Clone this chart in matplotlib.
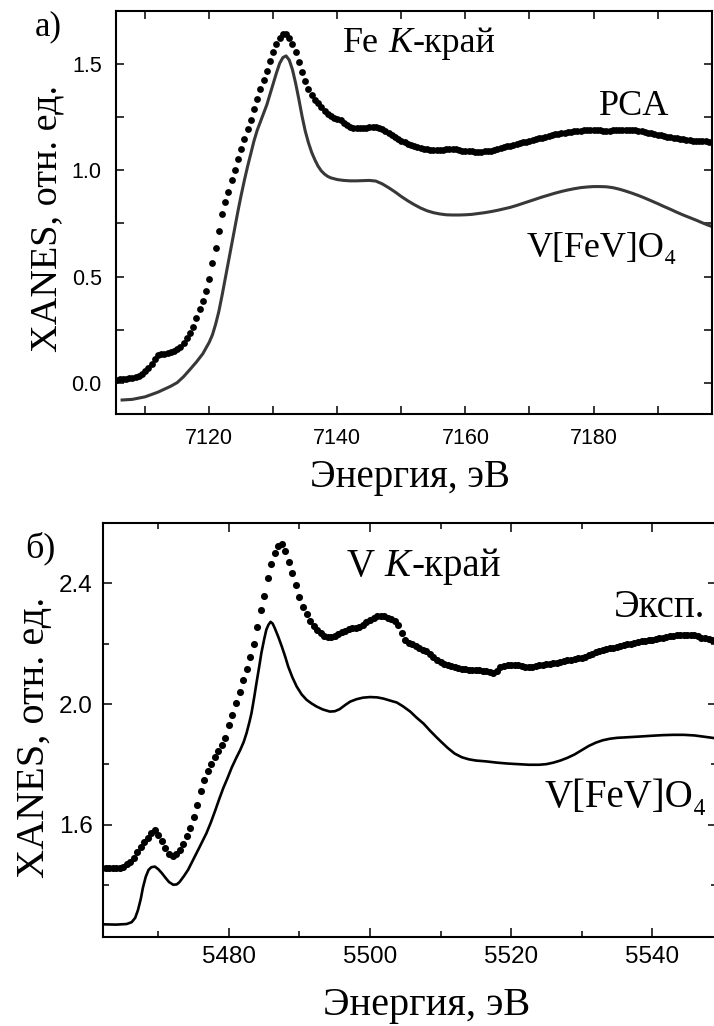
import numpy as np
import matplotlib
matplotlib.use("Agg")
import matplotlib.pyplot as plt
from matplotlib.ticker import FixedLocator

# ---------------- data ----------------
# Top panel: Fe K-edge
fe_pca_start = 7105.5          # eV, first experimental (PCA) point
fe_pca_step = 0.5              # eV sampling of the PCA points
fe_pca_values = [
    0.013, 0.015, 0.016, 0.018, 0.020, 0.022, 0.027, 0.033, 0.042, 0.053,
    0.068, 0.088, 0.110, 0.131, 0.136, 0.134, 0.138, 0.142, 0.148, 0.158,
    0.170, 0.188, 0.210, 0.232, 0.262, 0.303, 0.345, 0.385, 0.432, 0.490,
    0.565, 0.635, 0.715, 0.795, 0.853, 0.900, 0.955, 1.002, 1.055, 1.103,
    1.150, 1.197, 1.238, 1.288, 1.337, 1.384, 1.426, 1.470, 1.517, 1.558,
    1.595, 1.626, 1.643, 1.643, 1.625, 1.596, 1.560, 1.512, 1.462, 1.420,
    1.385, 1.356, 1.334, 1.316, 1.298, 1.282, 1.268, 1.257, 1.249, 1.242,
    1.236, 1.225, 1.214, 1.206, 1.201, 1.199, 1.198, 1.200, 1.202, 1.204,
    1.205, 1.204, 1.201, 1.194, 1.185, 1.175, 1.166, 1.157, 1.148, 1.141,
    1.134, 1.127, 1.121, 1.115, 1.111, 1.106, 1.103, 1.100, 1.098, 1.097,
    1.097, 1.096, 1.098, 1.100, 1.102, 1.101, 1.099, 1.096, 1.094, 1.093,
    1.091, 1.090, 1.089, 1.088, 1.089, 1.090, 1.091, 1.094, 1.097, 1.101,
    1.105, 1.109, 1.113, 1.117, 1.121, 1.125, 1.129, 1.132, 1.136, 1.140,
    1.143, 1.147, 1.151, 1.155, 1.159, 1.163, 1.167, 1.170, 1.173, 1.176,
    1.178, 1.181, 1.183, 1.185, 1.187, 1.188, 1.189, 1.190, 1.190, 1.191,
    1.190, 1.189, 1.188, 1.188, 1.188, 1.189, 1.190, 1.191, 1.192, 1.192,
    1.191, 1.190, 1.189, 1.187, 1.184, 1.181, 1.178, 1.175, 1.172, 1.169,
    1.166, 1.163, 1.160, 1.157, 1.154, 1.151, 1.148, 1.146, 1.144, 1.142,
    1.141, 1.140, 1.139, 1.138, 1.137, 1.136, 1.136,
]

fe_calc_energy = [
    7106.4, 7108.0, 7110.0, 7112.0, 7114.0, 7115.0, 7116.0, 7117.0, 7118.0, 7119.0,
    7120.0, 7120.5, 7121.0, 7121.5, 7122.0, 7122.5, 7123.0, 7123.5, 7124.0, 7124.5,
    7125.0, 7125.5, 7126.0, 7126.5, 7127.0, 7127.5, 7128.0, 7128.5, 7129.0, 7129.5,
    7130.0, 7130.5, 7131.0, 7131.5, 7132.0, 7132.5, 7133.0, 7133.5, 7134.0, 7134.5,
    7135.0, 7135.5, 7136.0, 7136.5, 7137.0, 7137.5, 7138.0, 7138.5, 7139.0, 7140.0,
    7141.0, 7142.0, 7143.0, 7144.0, 7145.0, 7146.0, 7147.0, 7148.0, 7149.0, 7150.0,
    7151.0, 7152.0, 7153.0, 7154.0, 7155.0, 7156.0, 7157.0, 7158.0, 7159.0, 7160.0,
    7161.0, 7162.0, 7163.0, 7164.0, 7165.0, 7166.0, 7167.0, 7168.0, 7169.0, 7170.0,
    7171.0, 7172.0, 7173.0, 7174.0, 7175.0, 7176.0, 7177.0, 7178.0, 7179.0, 7180.0,
    7181.0, 7182.0, 7183.0, 7184.0, 7185.0, 7186.0, 7187.0, 7188.0, 7189.0, 7190.0,
    7191.0, 7192.0, 7193.0, 7194.0, 7195.0, 7196.0, 7197.0, 7198.0, 7198.6,
]
fe_calc_values = [
    -0.082, -0.079, -0.067, -0.045, -0.017, 0.000, 0.028, 0.062, 0.097, 0.136,
    0.190, 0.225, 0.275, 0.335, 0.410, 0.490, 0.570, 0.650, 0.730, 0.810,
    0.885, 0.955, 1.020, 1.080, 1.140, 1.190, 1.230, 1.270, 1.310, 1.360,
    1.410, 1.460, 1.505, 1.532, 1.540, 1.520, 1.475, 1.410, 1.335, 1.255,
    1.185, 1.130, 1.085, 1.050, 1.020, 0.998, 0.983, 0.972, 0.965, 0.957,
    0.953, 0.951, 0.951, 0.952, 0.953, 0.950, 0.937, 0.919, 0.899, 0.877,
    0.857, 0.839, 0.823, 0.810, 0.801, 0.795, 0.791, 0.790, 0.790, 0.791,
    0.793, 0.797, 0.801, 0.806, 0.812, 0.819, 0.826, 0.835, 0.845, 0.855,
    0.865, 0.875, 0.884, 0.893, 0.901, 0.908, 0.914, 0.919, 0.922, 0.924,
    0.924, 0.923, 0.919, 0.912, 0.903, 0.893, 0.882, 0.870, 0.857, 0.844,
    0.830, 0.817, 0.803, 0.790, 0.778, 0.766, 0.753, 0.741, 0.735,
]

# Bottom panel: V K-edge
v_exp_start = 5462.0
v_exp_step = 0.5
v_exp_values = [
    1.457, 1.456, 1.456, 1.457, 1.457, 1.458, 1.462, 1.469, 1.478, 1.492,
    1.509, 1.526, 1.543, 1.558, 1.574, 1.582, 1.567, 1.547, 1.524, 1.504,
    1.498, 1.503, 1.517, 1.536, 1.562, 1.591, 1.625, 1.665, 1.712, 1.750,
    1.779, 1.803, 1.825, 1.845, 1.864, 1.887, 1.930, 1.965, 2.002, 2.040,
    2.080, 2.116, 2.155, 2.200, 2.256, 2.310, 2.357, 2.418, 2.462, 2.500,
    2.524, 2.531, 2.505, 2.470, 2.432, 2.393, 2.353, 2.322, 2.298, 2.276,
    2.259, 2.245, 2.234, 2.226, 2.221, 2.221, 2.226, 2.231, 2.238, 2.243,
    2.247, 2.250, 2.253, 2.256, 2.262, 2.270, 2.278, 2.285, 2.290, 2.292,
    2.290, 2.286, 2.281, 2.274, 2.260, 2.236, 2.213, 2.203, 2.197, 2.191,
    2.186, 2.180, 2.174, 2.165, 2.155, 2.146, 2.140, 2.134, 2.129, 2.125,
    2.121, 2.118, 2.116, 2.115, 2.114, 2.113, 2.112, 2.111, 2.110, 2.108,
    2.106, 2.104, 2.110, 2.121, 2.126, 2.128, 2.129, 2.130, 2.129, 2.126,
    2.123, 2.122, 2.123, 2.126, 2.128, 2.130, 2.132, 2.134, 2.136, 2.137,
    2.139, 2.141, 2.144, 2.146, 2.149, 2.151, 2.153, 2.157, 2.162, 2.167,
    2.172, 2.176, 2.179, 2.182, 2.185, 2.187, 2.190, 2.193, 2.195, 2.198,
    2.200, 2.203, 2.205, 2.207, 2.209, 2.211, 2.213, 2.215, 2.217, 2.219,
    2.221, 2.224, 2.226, 2.227, 2.228, 2.229, 2.229, 2.229, 2.227, 2.224,
    2.220, 2.217, 2.214, 2.213, 2.212,
]

v_calc_energy = [
    5462.1, 5464.0, 5465.5, 5466.2, 5466.7, 5467.1, 5467.5, 5467.8, 5468.2, 5468.6,
    5469.0, 5469.5, 5470.0, 5470.5, 5471.0, 5471.5, 5472.1, 5472.6, 5473.0, 5473.6,
    5474.2, 5475.0, 5475.8, 5476.8, 5477.4, 5478.0, 5478.6, 5479.2, 5479.8, 5480.4,
    5481.0, 5481.6, 5482.1, 5482.5, 5482.9, 5483.2, 5483.6, 5483.9, 5484.3, 5484.6,
    5485.0, 5485.3, 5485.6, 5485.9, 5486.2, 5486.5, 5487.0, 5487.5, 5488.0, 5488.4,
    5489.0, 5489.6, 5490.3, 5491.0, 5491.7, 5492.4, 5493.3, 5494.3, 5495.0, 5495.7,
    5496.5, 5497.2, 5498.1, 5499.0, 5500.0, 5501.0, 5501.9, 5502.9, 5503.8, 5504.7,
    5505.7, 5506.6, 5507.6, 5508.5, 5509.3, 5510.0, 5511.0, 5512.0, 5513.0, 5514.0,
    5515.0, 5516.5, 5518.0, 5519.5, 5521.0, 5522.5, 5524.0, 5525.0, 5526.0, 5527.0,
    5528.0, 5529.0, 5530.0, 5531.0, 5532.0, 5533.0, 5534.0, 5535.0, 5536.5, 5538.0,
    5540.0, 5541.5, 5543.0, 5544.5, 5546.0, 5547.3, 5549.2,
]
v_calc_values = [
    1.271, 1.270, 1.272, 1.278, 1.292, 1.318, 1.355, 1.392, 1.428, 1.451,
    1.460, 1.462, 1.453, 1.440, 1.425, 1.411, 1.402, 1.403, 1.411, 1.430,
    1.451, 1.488, 1.525, 1.572, 1.606, 1.644, 1.684, 1.722, 1.755, 1.790,
    1.820, 1.848, 1.875, 1.904, 1.940, 1.970, 2.025, 2.069, 2.125, 2.169,
    2.215, 2.246, 2.262, 2.272, 2.266, 2.251, 2.222, 2.190, 2.155, 2.124,
    2.088, 2.058, 2.032, 2.014, 2.002, 1.992, 1.982, 1.975, 1.976, 1.983,
    1.997, 2.008, 2.016, 2.021, 2.023, 2.022, 2.018, 2.011, 2.005, 1.992,
    1.975, 1.955, 1.935, 1.912, 1.893, 1.877, 1.855, 1.836, 1.824, 1.817,
    1.813, 1.810, 1.806, 1.803, 1.801, 1.799, 1.799, 1.801, 1.806, 1.813,
    1.822, 1.833, 1.847, 1.861, 1.872, 1.880, 1.885, 1.888, 1.890, 1.892,
    1.895, 1.897, 1.898, 1.898, 1.896, 1.892, 1.886,
]

# ticks
fe_xticks = [7120, 7140, 7160, 7180]
fe_xminor = [7110, 7130, 7150, 7170, 7190]
fe_yticks = [0.0, 0.5, 1.0, 1.5]
fe_yminor = [0.25, 0.75, 1.25]
v_xticks = [5480, 5500, 5520, 5540]
v_xminor = [5470, 5490, 5510, 5530]
v_yticks = [1.6, 2.0, 2.4]
v_yminor = [1.4, 1.8, 2.2]

# ---------------- figure ----------------
W, H = 714, 1026
fig = plt.figure(figsize=(W / 100, H / 100), dpi=100)
plt.rcParams['font.family'] = ['Liberation Sans', 'DejaVu Sans']
SERIF = ['Liberation Serif', 'DejaVu Serif']


def px_axes(l, t, r, b):
    return fig.add_axes([l / W, 1 - b / H, (r - l) / W, (b - t) / H])


ax1 = px_axes(115.7, 10.7, 712.0, 414.0)
ax2 = px_axes(102.7, 523.3, 717.0, 936.7)

fe_pca_energy = fe_pca_start + fe_pca_step * np.arange(len(fe_pca_values))
v_exp_energy = v_exp_start + v_exp_step * np.arange(len(v_exp_values))

ax1.plot(fe_calc_energy, fe_calc_values, color='#383838', lw=2.2, zorder=2)
ax1.plot(fe_pca_energy, fe_pca_values, 'o', ms=4.9, mew=0, color='black', zorder=3)

ax2.plot(v_calc_energy, v_calc_values, color='black', lw=1.9, zorder=2)
ax2.plot(v_exp_energy, v_exp_values, 'o', ms=5.1, mew=0, color='black', zorder=3)

ax1.set_xlim(7105.4, 7198.5)
ax1.set_ylim(-0.148, 1.753)
ax2.set_xlim(5462.1, 5549.2)
ax2.set_ylim(1.230, 2.598)

for ax, xt, xm, yt, ym, fmt in [
    (ax1, fe_xticks, fe_xminor, fe_yticks, fe_yminor, '{:.1f}'),
    (ax2, v_xticks, v_xminor, v_yticks, v_yminor, '{:.1f}'),
]:
    ax.xaxis.set_major_locator(FixedLocator(xt))
    ax.xaxis.set_minor_locator(FixedLocator(xm))
    ax.yaxis.set_major_locator(FixedLocator(yt))
    ax.yaxis.set_minor_locator(FixedLocator(ym))
    ax.set_xticklabels([str(v) for v in xt])
    ax.set_yticklabels([fmt.format(v) for v in yt])
    for s in ax.spines.values():
        s.set_linewidth(1.5)

ax1.tick_params(which='both', direction='in', top=True, right=True,
                width=1.1, length=5.8, labelsize=15.5, color='black')
ax1.tick_params(axis='x', pad=10)
ax1.tick_params(axis='y', pad=10)

ax2.tick_params(which='both', direction='in', top=True, right=True,
                width=1.1, labelsize=17.5, color='black')
ax2.tick_params(which='major', length=6.5)
ax2.tick_params(which='minor', length=4.3)
ax2.tick_params(axis='x', pad=7)
ax2.tick_params(axis='y', pad=7)

renderer = fig.canvas.get_renderer()


def ftext(x, y, s, size, **kw):
    return fig.text(x / W, 1 - y / H, s, fontsize=size, family=SERIF, **kw)


def rich(x, y, pieces, size):
    cur = x
    for s, style, gap in pieces:
        t = ftext(cur, y, s, size, style=style, ha='left', va='baseline')
        bb = t.get_window_extent(renderer)
        cur = bb.x1 + gap * size * 100 / 72


# top panel texts
ftext(35, 35, 'а)', 25, ha='left', va='baseline')
rich(343, 52, [('Fe', 'normal', 0.25), ('K', 'italic', 0.02), ('-край', 'normal', 0)], 26)
ftext(599, 115, 'PCA', 26, ha='left', va='baseline')
ftext(527, 257, 'V[FeV]O₄', 26, ha='left', va='baseline')
ftext(410, 487, 'Энергия, эВ', 28, ha='center', va='baseline')
ftext(57, 218, 'XANES, отн. ед.', 27.5, ha='center', va='baseline',
      rotation=90, rotation_mode='anchor')

# bottom panel texts
ftext(25, 557, 'б)', 26, ha='left', va='baseline')
rich(347, 576, [('V', 'normal', 0.25), ('K', 'italic', 0.02), ('-край', 'normal', 0)], 28)
ftext(614, 617, 'Эксп.', 28, ha='left', va='baseline')
ftext(545, 807, 'V[FeV]O₄', 28, ha='left', va='baseline')
ftext(427, 1015, 'Энергия, эВ', 29, ha='center', va='baseline')
ftext(44, 737, 'XANES, отн. ед.', 29, ha='center', va='baseline',
      rotation=90, rotation_mode='anchor')

fig.savefig('out.png', dpi=100)
